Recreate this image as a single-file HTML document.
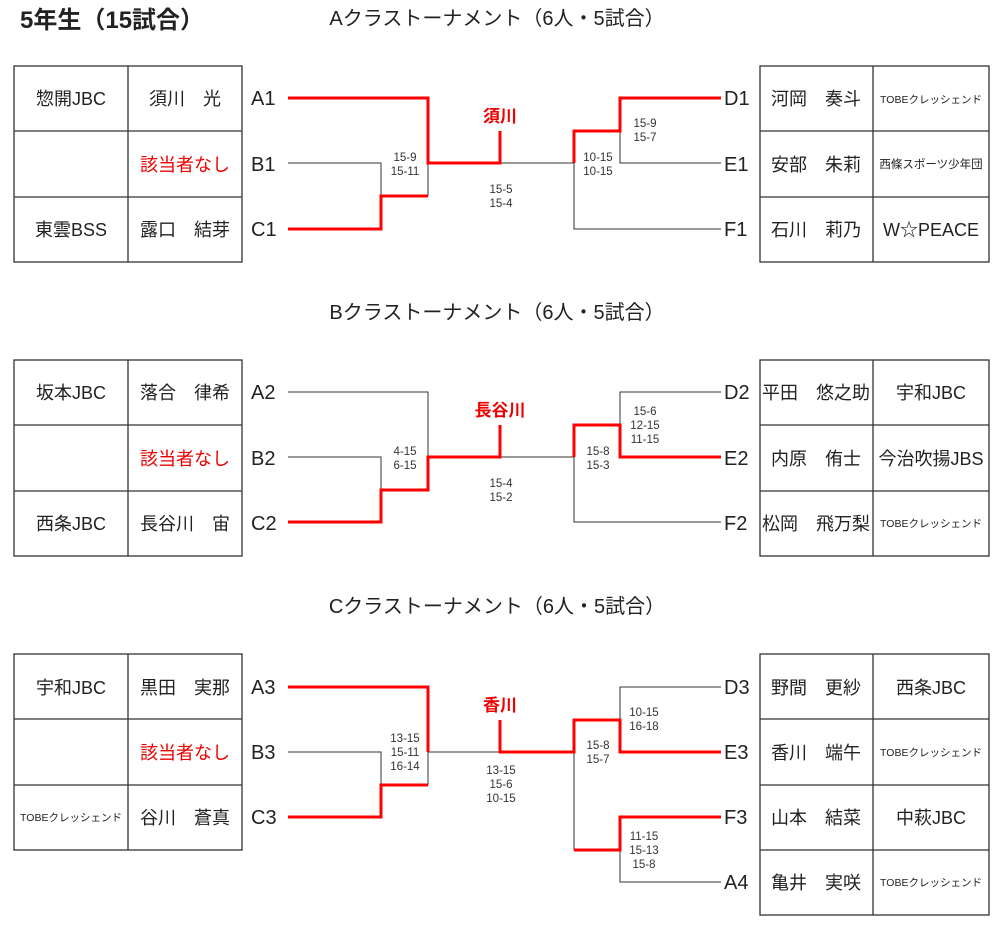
<!DOCTYPE html>
<html><head><meta charset="utf-8"><style>
html,body{margin:0;padding:0;background:#fff}
svg{display:block}
text{font-family:"Liberation Sans","Noto Sans CJK JP",sans-serif;fill:#222}
.n{font-size:18px}
.s{font-size:11.5px;fill:#333}
.t{font-size:10.5px}
.l{font-size:20px}
.r{fill:#e00}
.k{fill:none;stroke:#333;stroke-width:1}
.w{fill:none;stroke:#f00;stroke-width:3}
.b{fill:none;stroke:#333;stroke-width:1.3}
</style></head><body>
<svg width="1000" height="948" viewBox="0 0 1000 948">
<text x="20" y="28" style="font-size:24px;font-weight:bold">5年生（15試合）</text>
<text x="497" y="25" text-anchor="middle" style="font-size:20px">Aクラストーナメント（6人・5試合）</text>
<text x="497" y="319" text-anchor="middle" style="font-size:20px">Bクラストーナメント（6人・5試合）</text>
<text x="497" y="613" text-anchor="middle" style="font-size:20px">Cクラストーナメント（6人・5試合）</text>

<rect class="b" x="14" y="66" width="228" height="196"/><line class="b" x1="128" y1="66" x2="128" y2="262"/><line class="b" x1="14" y1="131" x2="242" y2="131"/><line class="b" x1="14" y1="197" x2="242" y2="197"/>
<rect class="b" x="760" y="66" width="229" height="196"/><line class="b" x1="873" y1="66" x2="873" y2="262"/><line class="b" x1="760" y1="131" x2="989" y2="131"/><line class="b" x1="760" y1="197" x2="989" y2="197"/>
<rect class="b" x="14" y="360" width="228" height="196"/><line class="b" x1="128" y1="360" x2="128" y2="556"/><line class="b" x1="14" y1="425" x2="242" y2="425"/><line class="b" x1="14" y1="491" x2="242" y2="491"/>
<rect class="b" x="760" y="360" width="229" height="196"/><line class="b" x1="873" y1="360" x2="873" y2="556"/><line class="b" x1="760" y1="425" x2="989" y2="425"/><line class="b" x1="760" y1="491" x2="989" y2="491"/>
<rect class="b" x="14" y="654" width="228" height="196"/><line class="b" x1="128" y1="654" x2="128" y2="850"/><line class="b" x1="14" y1="719" x2="242" y2="719"/><line class="b" x1="14" y1="785" x2="242" y2="785"/>
<rect class="b" x="760" y="654" width="229" height="261"/><line class="b" x1="873" y1="654" x2="873" y2="915"/><line class="b" x1="760" y1="719" x2="989" y2="719"/><line class="b" x1="760" y1="785" x2="989" y2="785"/><line class="b" x1="760" y1="850" x2="989" y2="850"/>

<text class="n" x="71" y="105" text-anchor="middle">惣開JBC</text><text class="n" x="185" y="105" text-anchor="middle">須川　光</text>
<text class="n r" x="185" y="171" text-anchor="middle">該当者なし</text>
<text class="n" x="71" y="236" text-anchor="middle">東雲BSS</text><text class="n" x="185" y="236" text-anchor="middle">露口　結芽</text>
<text class="n" x="816" y="105" text-anchor="middle">河岡　奏斗</text><text class="t" x="931" y="103" text-anchor="middle">TOBEクレッシェンド</text>
<text class="n" x="816" y="171" text-anchor="middle">安部　朱莉</text><text class="t" x="931" y="168" text-anchor="middle" style="font-size:11.5px">西條スポーツ少年団</text>
<text class="n" x="816" y="236" text-anchor="middle">石川　莉乃</text><text class="n" x="931" y="236" text-anchor="middle">W☆PEACE</text>
<text class="n" x="71" y="399" text-anchor="middle">坂本JBC</text><text class="n" x="185" y="399" text-anchor="middle">落合　律希</text>
<text class="n r" x="185" y="465" text-anchor="middle">該当者なし</text>
<text class="n" x="71" y="530" text-anchor="middle">西条JBC</text><text class="n" x="185" y="530" text-anchor="middle">長谷川　宙</text>
<text class="n" x="816" y="399" text-anchor="middle">平田　悠之助</text><text class="n" x="931" y="399" text-anchor="middle">宇和JBC</text>
<text class="n" x="816" y="465" text-anchor="middle">内原　侑士</text><text class="n" x="931" y="465" text-anchor="middle">今治吹揚JBS</text>
<text class="n" x="816" y="530" text-anchor="middle">松岡　飛万梨</text><text class="t" x="931" y="527" text-anchor="middle">TOBEクレッシェンド</text>
<text class="n" x="71" y="694" text-anchor="middle">宇和JBC</text><text class="n" x="185" y="694" text-anchor="middle">黒田　実那</text>
<text class="n r" x="185" y="759" text-anchor="middle">該当者なし</text>
<text class="t" x="71" y="821" text-anchor="middle">TOBEクレッシェンド</text><text class="n" x="185" y="824" text-anchor="middle">谷川　蒼真</text>
<text class="n" x="816" y="694" text-anchor="middle">野間　更紗</text><text class="n" x="931" y="694" text-anchor="middle">西条JBC</text>
<text class="n" x="816" y="759" text-anchor="middle">香川　端午</text><text class="t" x="931" y="756" text-anchor="middle">TOBEクレッシェンド</text>
<text class="n" x="816" y="824" text-anchor="middle">山本　結菜</text><text class="n" x="931" y="824" text-anchor="middle">中萩JBC</text>
<text class="n" x="816" y="889" text-anchor="middle">亀井　実咲</text><text class="t" x="931" y="886" text-anchor="middle">TOBEクレッシェンド</text>

<text class="l" x="251" y="105">A1</text><text class="l" x="251" y="171">B1</text><text class="l" x="251" y="236">C1</text>
<text class="l" x="724" y="105">D1</text><text class="l" x="724" y="171">E1</text><text class="l" x="724" y="236">F1</text>
<text class="l" x="251" y="399">A2</text><text class="l" x="251" y="465">B2</text><text class="l" x="251" y="530">C2</text>
<text class="l" x="724" y="399">D2</text><text class="l" x="724" y="465">E2</text><text class="l" x="724" y="530">F2</text>
<text class="l" x="251" y="694">A3</text><text class="l" x="251" y="759">B3</text><text class="l" x="251" y="824">C3</text>
<text class="l" x="724" y="694">D3</text><text class="l" x="724" y="759">E3</text><text class="l" x="724" y="824">F3</text><text class="l" x="724" y="889">A4</text>

<path class="k" d="M288 163H381V196 M428 163V196 M500 163H574 M574 163V229H721 M620 131V163H721"/>
<path class="w" d="M288 98H428V163H500V131 M288 229H381V196H428 M721 98H620V131H574V163"/>
<text class="n r" x="500" y="122" text-anchor="middle" style="font-weight:bold;font-size:17px">須川</text>
<text class="s" x="405" y="161" text-anchor="middle">15-9</text><text class="s" x="405" y="175" text-anchor="middle">15-11</text>
<text class="s" x="501" y="193" text-anchor="middle">15-5</text><text class="s" x="501" y="207" text-anchor="middle">15-4</text>
<text class="s" x="598" y="161" text-anchor="middle">10-15</text><text class="s" x="598" y="175" text-anchor="middle">10-15</text>
<text class="s" x="645" y="127" text-anchor="middle">15-9</text><text class="s" x="645" y="141" text-anchor="middle">15-7</text>

<path class="k" d="M288 392H428V457 M288 457H381V490 M428 490V457 M500 457H574 M574 457V522H721 M574 425V457 M721 392H620V425"/>
<path class="w" d="M288 522H381V490H428V457H500V425 M721 457H620V425H574V457"/>
<text class="n r" x="500" y="416" text-anchor="middle" style="font-weight:bold;font-size:17px">長谷川</text>
<text class="s" x="405" y="455" text-anchor="middle">4-15</text><text class="s" x="405" y="469" text-anchor="middle">6-15</text>
<text class="s" x="501" y="487" text-anchor="middle">15-4</text><text class="s" x="501" y="501" text-anchor="middle">15-2</text>
<text class="s" x="598" y="455" text-anchor="middle">15-8</text><text class="s" x="598" y="469" text-anchor="middle">15-3</text>
<text class="s" x="645" y="415" text-anchor="middle">15-6</text><text class="s" x="645" y="429" text-anchor="middle">12-15</text><text class="s" x="645" y="443" text-anchor="middle">11-15</text>

<path class="k" d="M288 752H381V785 M428 752V785 M428 752H500 M574 752V850 M620 720V687H721 M620 850V882H721"/>
<path class="w" d="M288 687H428V752 M288 817H381V785H428 M500 720V752H574V720H620V752H721 M574 850H620V817H721"/>
<text class="n r" x="500" y="711" text-anchor="middle" style="font-weight:bold;font-size:17px">香川</text>
<text class="s" x="405" y="742" text-anchor="middle">13-15</text><text class="s" x="405" y="756" text-anchor="middle">15-11</text><text class="s" x="405" y="770" text-anchor="middle">16-14</text>
<text class="s" x="501" y="774" text-anchor="middle">13-15</text><text class="s" x="501" y="788" text-anchor="middle">15-6</text><text class="s" x="501" y="802" text-anchor="middle">10-15</text>
<text class="s" x="598" y="749" text-anchor="middle">15-8</text><text class="s" x="598" y="763" text-anchor="middle">15-7</text>
<text class="s" x="644" y="716" text-anchor="middle">10-15</text><text class="s" x="644" y="730" text-anchor="middle">16-18</text>
<text class="s" x="644" y="840" text-anchor="middle">11-15</text><text class="s" x="644" y="854" text-anchor="middle">15-13</text><text class="s" x="644" y="868" text-anchor="middle">15-8</text>
</svg>
</body></html>
